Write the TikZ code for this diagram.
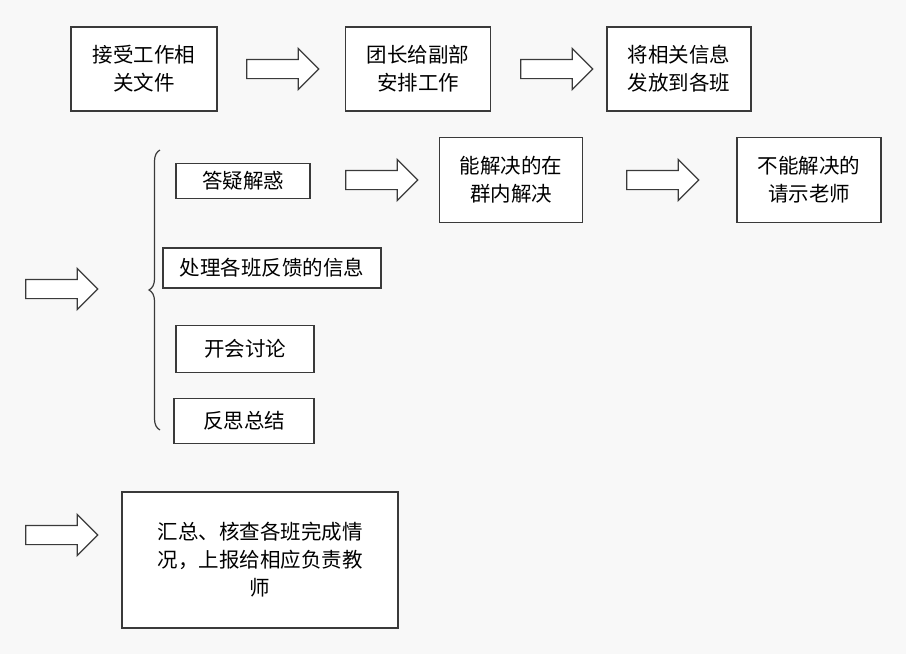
\documentclass[tikz,border=0pt]{standalone}
\usepackage{fontspec}
\setmainfont{Noto Sans CJK SC}
\usetikzlibrary{positioning,shapes.arrows,decorations.pathreplacing}
\definecolor{bg}{HTML}{F8F8F8}
\definecolor{edge}{HTML}{3A3A3A}
\tikzset{
  box/.style={draw=edge, line width=1.2pt, fill=white, align=center, inner sep=0pt, font=\fontsize{20.5}{28}\selectfont},
  blockarrow/.style={draw=edge, line width=1.2pt, fill=white, single arrow, minimum height=72pt, text height=0pt, text depth=0pt, inner xsep=0pt, inner ysep=9pt, single arrow head extend=11pt}
}
\begin{document}
\begin{tikzpicture}[x=1pt, y=-1pt]
        \fill[bg] (0,0) rectangle (906,654);
        \useasboundingbox (0,0) rectangle (906,654);
        \node[box, minimum width=146pt, minimum height=84pt] (receive) at (144,69) {接受工作相\\关文件};
        \node[box, minimum width=145pt, minimum height=84pt] (assign) at (418,69) {团长给副部\\安排工作};
        \node[box, minimum width=144pt, minimum height=84pt] (send) at (679,69) {将相关信息\\发放到各班};
        \node[blockarrow] (a1) at (278,69) {};
        \node[blockarrow] (a2) at (552,69) {};

        \node[box, minimum width=134pt, minimum height=35pt] (answer) at (243,181) {答疑解惑};
        \node[box, minimum width=218pt, minimum height=40pt] (handle) at (272,268) {处理各班反馈的信息};
        \node[box, minimum width=138pt, minimum height=47pt] (meet) at (245,349) {开会讨论};
        \node[box, minimum width=140pt, minimum height=45pt] (reflect) at (244,421) {反思总结};
        \node[box, minimum width=143pt, minimum height=85pt] (solve) at (511,180) {能解决的在\\群内解决};
        \node[box, minimum width=144pt, minimum height=85pt] (ask) at (809,180) {不能解决的\\请示老师};
        \node[blockarrow] (a3) at (377,180) {};
        \node[blockarrow] (a4) at (658,180) {};
        \node[blockarrow] (a5) at (57,289) {};
        \draw[edge, line width=1.2pt, decorate, decoration={brace, amplitude=11pt}] (160,430) -- (160,150);

        \node[blockarrow] (a6) at (57,535) {};
        \node[box, minimum width=276pt, minimum height=136pt] (report) at (260,560) {汇总、核查各班完成情\\况，上报给相应负责教\\师};
    \end{tikzpicture}
\end{document}
